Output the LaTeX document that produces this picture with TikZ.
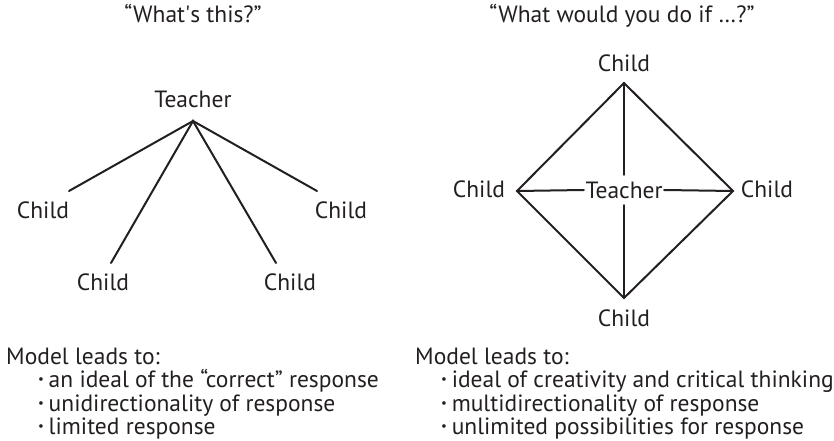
\documentclass[tikz,border=0pt]{standalone}
\usepackage{fontspec}
\usepackage{graphicx}
\setmainfont{PT Sans}
\definecolor{ink}{HTML}{231F20}
\begin{document}
\begin{tikzpicture}[x=1pt,y=-1pt,
  lbl/.style={anchor=base,inner sep=0pt,text=ink,font=\fontsize{23.5}{27}\selectfont},
  txt/.style={anchor=base west,inner sep=0pt,text=ink,font=\fontsize{23.5}{27}\selectfont},
  edge/.style={draw=ink,line width=2pt,line cap=round,line join=miter}]
\useasboundingbox (0,0) rectangle (834,441);
% headings
\node[lbl] (h1) at (193,23) {“What\textquotesingle s this?”};
\node[lbl] (h2) at (622,23) {“What would you do if …?”};
% left diagram
\node[lbl] (T1) at (193,107) {Teacher};
\coordinate (apex) at (193,121);
\node[lbl] (c1) at (43,218) {Child};
\node[lbl] (c2) at (103,290) {Child};
\node[lbl] (c3) at (290,290) {Child};
\node[lbl] (c4) at (341,218) {Child};
\coordinate (e1) at (69,191);
\coordinate (e2) at (111,263);
\coordinate (e3) at (276,263);
\coordinate (e4) at (317,191);
\draw[edge] (e1) -- (apex) -- (e4);
\draw[edge] (e2) -- (apex) -- (e3);
% right diagram
\coordinate (vt) at (624,83);
\coordinate (vl) at (517,191);
\coordinate (vr) at (733,191);
\coordinate (vb) at (624,298);
\node[anchor=center,inner xsep=1.5pt,inner ysep=0pt,minimum height=30pt,text=ink,font=\fontsize{23.5}{27}\selectfont] (T2) at (624,190) {Teacher};
\node[lbl] (ct) at (624,72) {Child};
\node[lbl] (cl) at (479,197) {Child};
\node[lbl] (cr) at (767,197) {Child};
\node[lbl] (cb) at (624,326) {Child};
\draw[edge] (vt) -- (vr) -- (vb) -- (vl) -- cycle;
\draw[edge] (vt) -- (T2.north);
\draw[edge] (vb) -- (T2.south);
\draw[edge] (vl) -- (T2.west);
\draw[edge] (vr) -- (T2.east);
% bottom texts
\newcommand{\bul}{\raisebox{0.15em}{\scalebox{0.55}{•}}\hspace{0.2em}}
\node[txt] (m1) at (6,364) {Model leads to:};
\node[txt] (m1a) at (38,387) {\bul an ideal of the “correct” response};
\node[txt] (m1b) at (38,411) {\bul unidirectionality of response};
\node[txt] (m1c) at (38,434) {\bul limited response};
\node[txt] (m2) at (415,364) {Model leads to:};
\node[txt] (m2a) at (441,387) {\bul ideal of creativity and critical thinking};
\node[txt] (m2b) at (441,411) {\bul multidirectionality of response};
\node[txt] (m2c) at (441,434) {\bul unlimited possibilities for response};
\end{tikzpicture}
\end{document}
